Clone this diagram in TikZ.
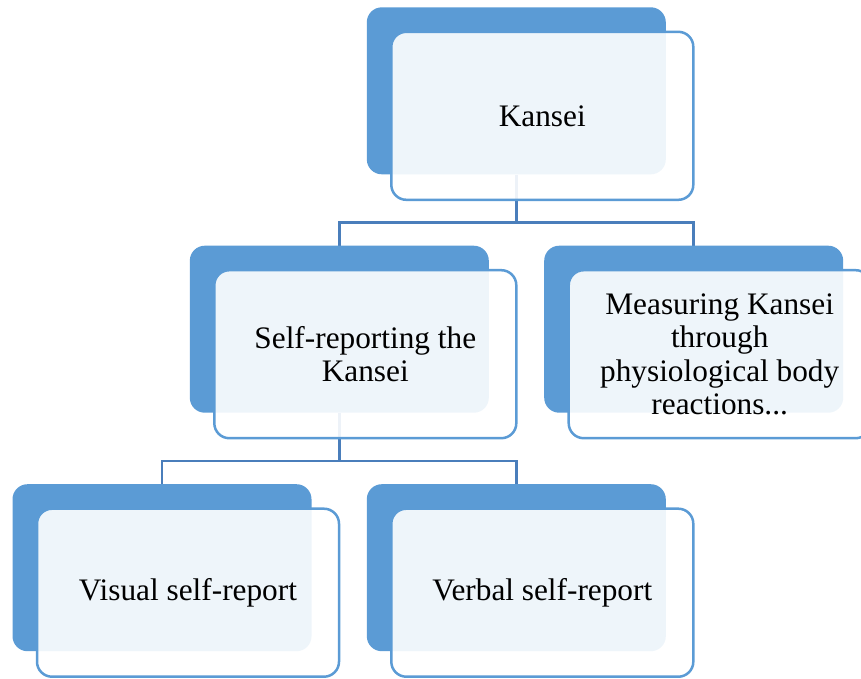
\documentclass[tikz,border=0pt]{standalone}
\usepackage{fontspec}
\setmainfont{Liberation Serif}
\usetikzlibrary{backgrounds}
\definecolor{accent}{RGB}{91,155,213}
\definecolor{linkblue}{RGB}{74,126,187}
\tikzset{
  backcard/.style={draw=none, fill=accent, rounded corners=15pt,
    minimum width=299pt, minimum height=167pt, inner sep=0pt},
  frontcard/.style={draw=accent, line width=2.5pt, fill=white, fill opacity=0.9,
    text opacity=1, rounded corners=15pt, minimum width=302pt, minimum height=168pt,
    inner sep=0pt, align=center, font=\fontsize{31.3}{33.5}\selectfont},
  link/.style={draw=linkblue, line width=2.5pt}
}
\begin{document}
\begin{tikzpicture}[x=1pt,y=-1pt]
\useasboundingbox (0,0) rectangle (861,678);

% back cards
\node[backcard] (kb) at (516.3,90.8) {};
\node[frontcard] (k) at ([shift={(26,25)}]kb.center) {Kansei};

\node[backcard] (sb) at (339.3,329.2) {};
\node[frontcard] (s) at ([shift={(26,25)}]sb.center) {Self-reporting the\\Kansei};

\node[backcard] (mb) at (693.7,329.2) {};
\node[frontcard] (m) at ([shift={(26,25)}]mb.center) {Measuring Kansei\\through\\physiological body\\reactions...};

\node[backcard] (vb) at (162,567.7) {};
\node[frontcard] (v) at ([shift={(26,25)}]vb.center) {Visual self-report};

\node[backcard] (rb) at (516.3,567.7) {};
\node[frontcard] (r) at ([shift={(26,25)}]rb.center) {Verbal self-report};

% elbow connectors behind the cards
\begin{scope}[on background layer]
  \draw[link] (kb.south) -- ++(0,48) -| (sb.north);
  \draw[link] (kb.south) -- ++(0,48) -| (mb.north);
  \draw[link] (sb.south) -- ++(0,48) -| (vb.north);
  \draw[link] (sb.south) -- ++(0,48) -| (rb.north);
\end{scope}
\end{tikzpicture}
\end{document}
